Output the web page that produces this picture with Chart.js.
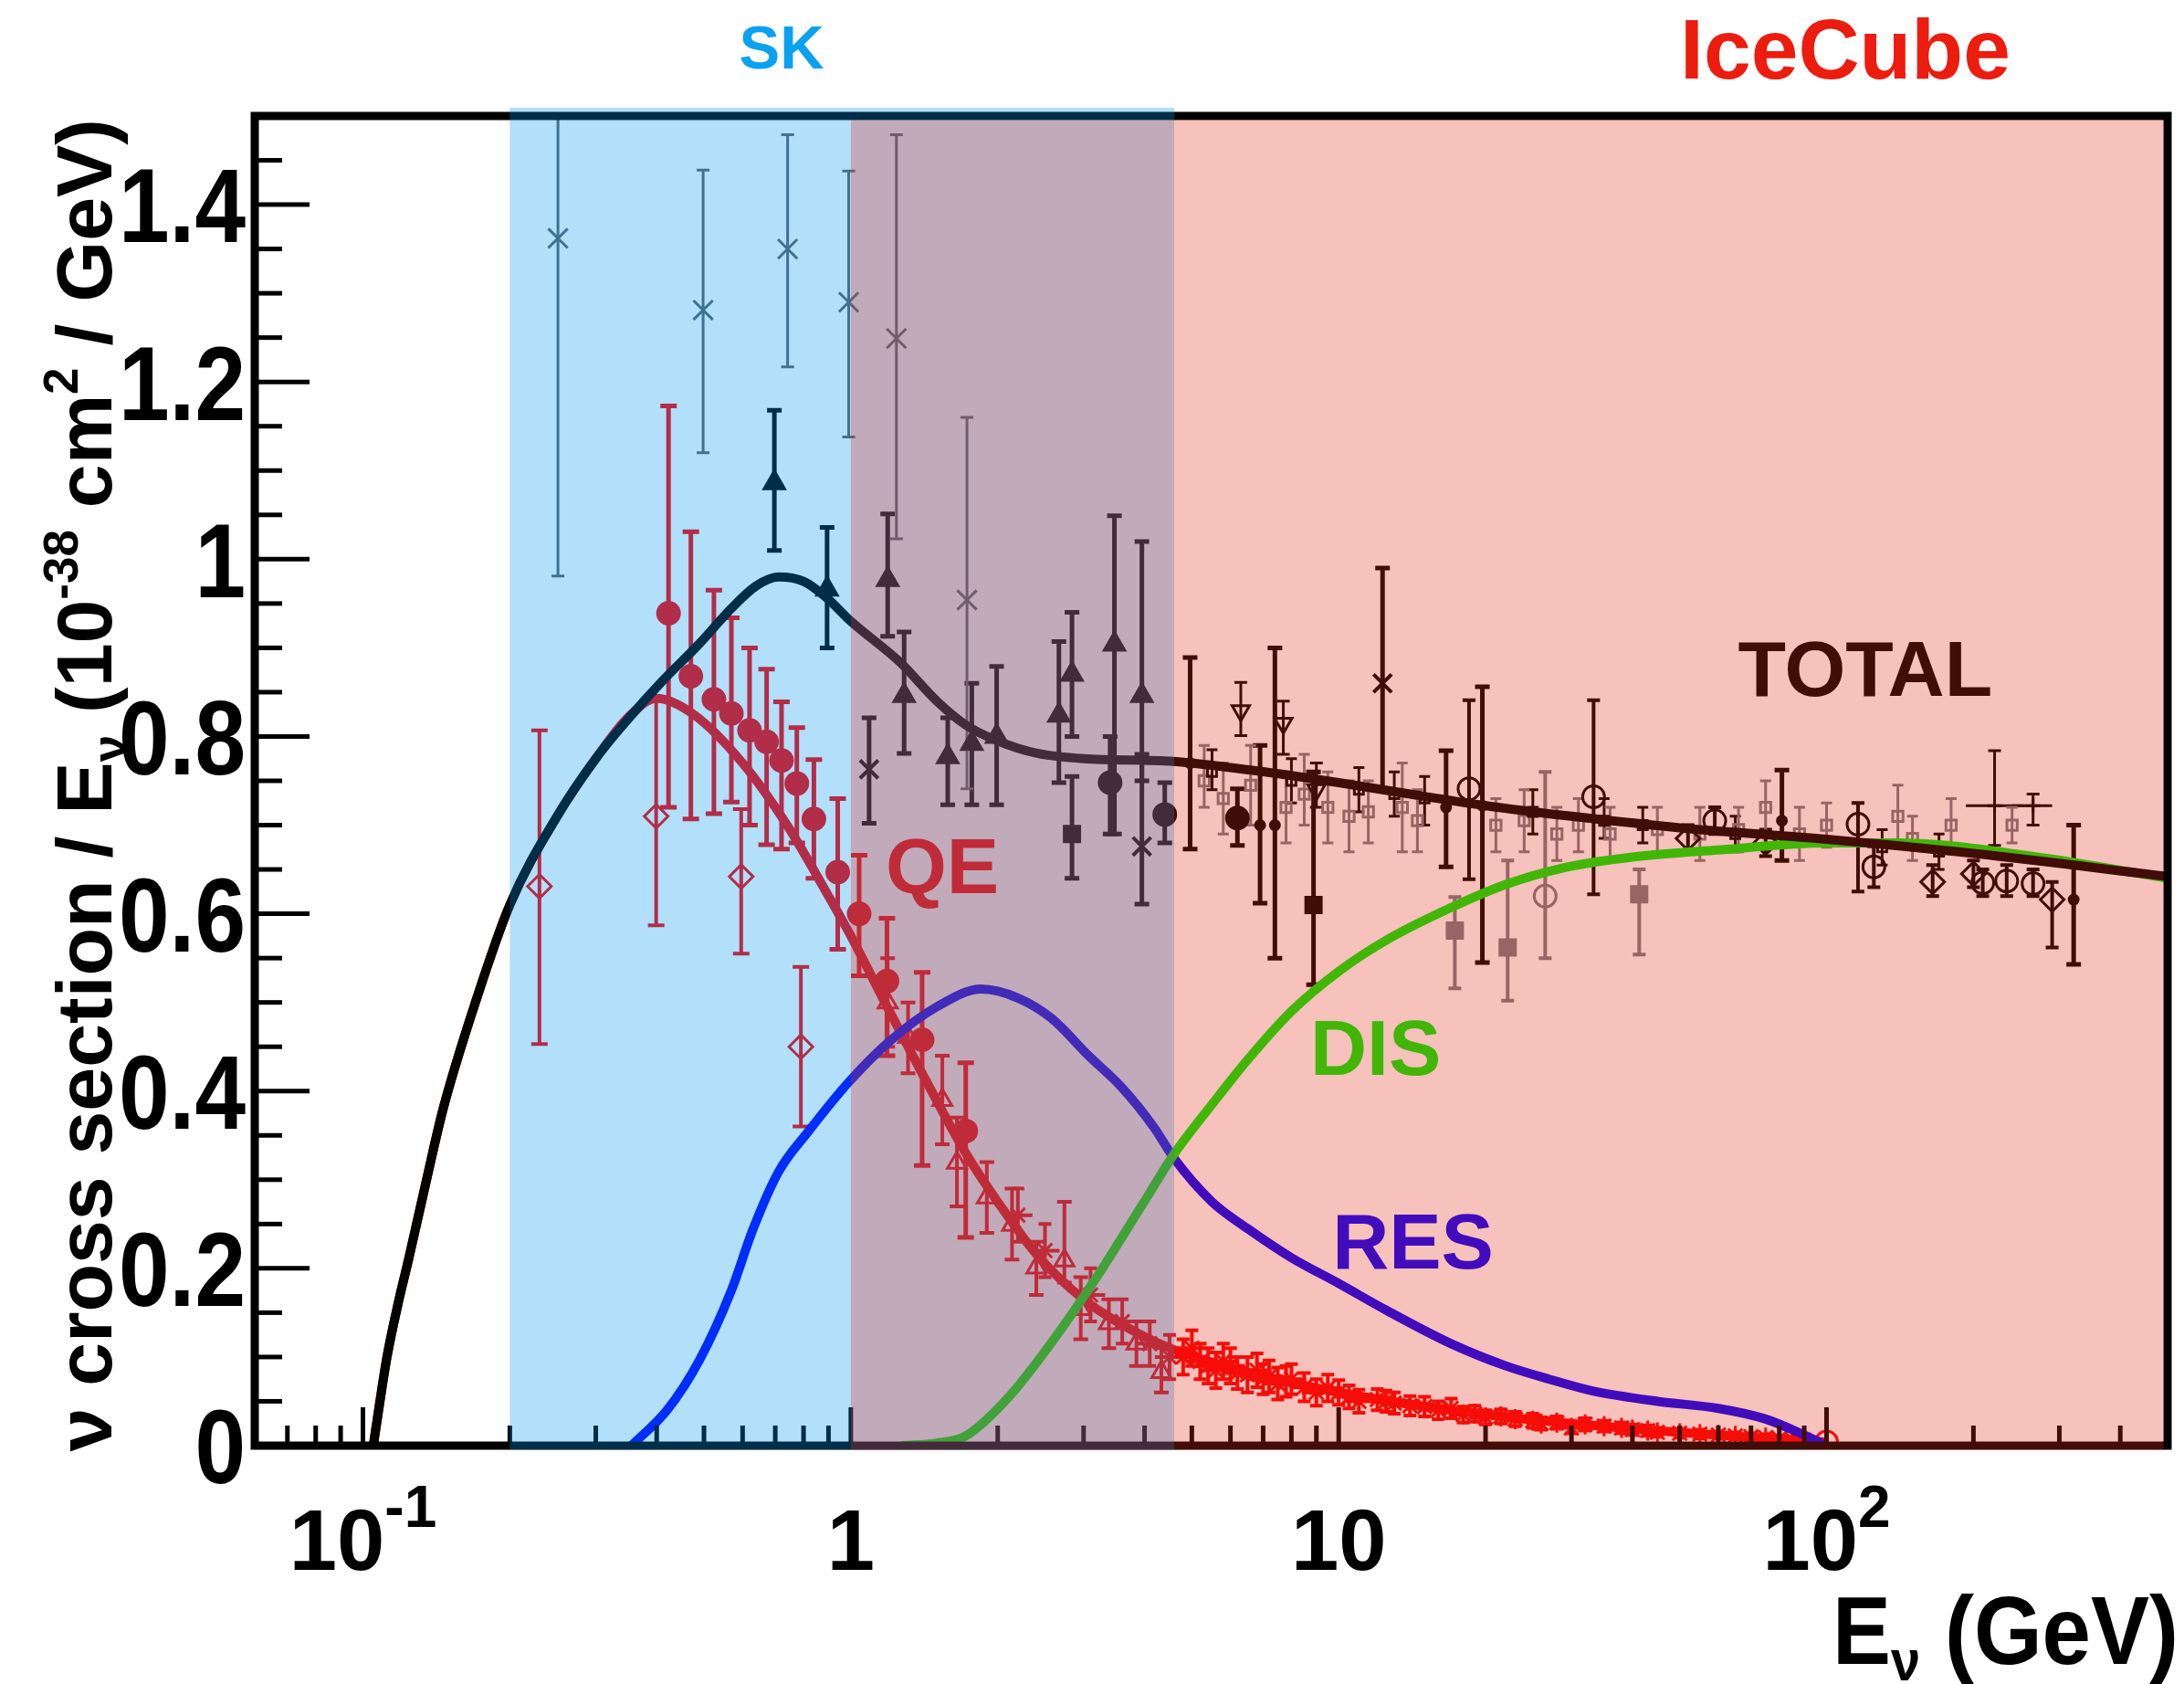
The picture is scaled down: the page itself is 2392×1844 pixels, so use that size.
<!DOCTYPE html>
<html>
<head>
    <meta charset="utf-8">
    <title>Neutrino cross section</title>
    <script src="https://cdn.jsdelivr.net/npm/chart.js"></script>
    <style>
        html, body { margin: 0; padding: 0; background: #fff; }
        canvas { display: block; }
    </style>
</head>
<body>
    <canvas id="xsec_chart" width="2392" height="1844"></canvas>
    <script>
        const FONT = '"Liberation Sans", Arial, Helvetica, sans-serif';

        // model curves (E in GeV, sigma/E in 1e-38 cm2/GeV)
        const totalE = [0.105, 0.108, 0.112, 0.118, 0.124, 0.135, 0.146, 0.17, 0.2, 0.25, 0.3, 0.35, 0.41, 0.49, 0.57, 0.64, 0.71, 0.8, 0.89, 1.0, 1.26, 1.5, 1.72, 2.0, 2.41, 3.0, 4.58, 6, 8, 10, 14, 20, 30, 50, 100, 200, 500];
        const totalV = [0, 0.045, 0.10, 0.16, 0.21, 0.30, 0.38, 0.50, 0.61, 0.71, 0.775, 0.82, 0.862, 0.905, 0.945, 0.97, 0.98, 0.975, 0.957, 0.93, 0.884, 0.84, 0.813, 0.795, 0.781, 0.775, 0.772, 0.765, 0.756, 0.748, 0.735, 0.722, 0.71, 0.697, 0.684, 0.668, 0.642];
        const qeE = [0.105, 0.108, 0.112, 0.118, 0.124, 0.135, 0.146, 0.17, 0.2, 0.25, 0.3, 0.35, 0.4, 0.476, 0.6, 0.74, 0.9, 1.0, 1.2, 1.4, 1.72, 2.0, 2.41, 3.0, 3.9, 4.6, 6.5, 10, 20, 30, 50, 100];
        const qeV = [0, 0.045, 0.10, 0.16, 0.21, 0.30, 0.38, 0.50, 0.61, 0.71, 0.775, 0.822, 0.843, 0.825, 0.77, 0.70, 0.62, 0.575, 0.49, 0.42, 0.33, 0.275, 0.215, 0.165, 0.126, 0.108, 0.083, 0.06, 0.035, 0.025, 0.015, 0.004];
        const resE = [0.355, 0.42, 0.49, 0.569, 0.63, 0.711, 0.82, 0.99, 1.2, 1.5, 1.85, 2.2, 2.58, 3.07, 3.58, 4.17, 4.6, 5.5, 6.5, 8, 10, 12.5, 17, 22, 27, 33, 45, 60, 75, 90, 100];
        const resV = [0, 0.04, 0.097, 0.175, 0.244, 0.309, 0.355, 0.41, 0.456, 0.495, 0.515, 0.505, 0.482, 0.44, 0.405, 0.36, 0.324, 0.275, 0.245, 0.212, 0.183, 0.153, 0.115, 0.09, 0.075, 0.062, 0.05, 0.042, 0.03, 0.012, 0];
        const disE = [1.27, 1.5, 1.72, 2.1, 2.6, 3.2, 3.95, 4.6, 5.5, 6.5, 8, 10, 12.5, 17, 22, 29, 40, 60, 100, 140, 270, 500];
        const disV = [0, 0.003, 0.011, 0.054, 0.119, 0.191, 0.271, 0.329, 0.385, 0.435, 0.49, 0.535, 0.57, 0.607, 0.633, 0.652, 0.664, 0.672, 0.68, 0.68, 0.664, 0.64];

        // total cross section data
        const grayXE = [0.251, 0.498, 0.742, 0.99, 1.24, 1.73];
        const grayXV = [1.362, 1.281, 1.350, 1.290, 1.249, 0.954];
        const grayXLo = [0.981, 1.120, 1.217, 1.138, 1.023, 0.741];
        const grayXHi = [1.52, 1.439, 1.479, 1.438, 1.479, 1.160];

        const triE = [0.697, 0.894, 1.19, 1.286, 1.58, 1.77, 1.99, 2.67, 2.84, 3.47, 3.95];
        const triV = [1.086, 0.966, 0.977, 0.846, 0.777, 0.792, 0.800, 0.824, 0.870, 0.904, 0.846];
        const triLo = [1.010, 0.900, 0.913, 0.781, 0.723, 0.723, 0.723, 0.748, 0.800, 0.690, 0.750];
        const triHi = [1.168, 1.036, 1.051, 0.918, 0.821, 0.860, 0.879, 0.907, 0.940, 1.049, 1.020];

        const dotE = [3.4, 4.4, 6.2];
        const dotV = [0.748, 0.712, 0.708];
        const dotLo = [0.69, 0.68, 0.677];
        const dotHi = [0.80, 0.748, 0.741];

        const sqE = [2.84, 8.88];
        const sqV = [0.69, 0.61];
        const sqLo = [0.64, 0.52];
        const sqHi = [0.755, 0.76];

        const barE = [4.96, 6.9, 7.4, 16.6, 19.7, 81, 321];
        const barV = [0.77, 0.70, 0.70, 0.72, 0.722, 0.705, 0.616];
        const barLo = [0.673, 0.612, 0.55, 0.653, 0.545, 0.66, 0.543];
        const barHi = [0.889, 0.79, 0.90, 0.784, 0.856, 0.762, 0.70];

        const darkXE = [1.09, 3.95, 12.3];
        const darkXV = [0.763, 0.676, 0.86];
        const darkXLo = [0.702, 0.611, 0.74];
        const darkXHi = [0.821, 0.78, 0.99];

        const ringE = [18.5, 33.3, 59, 116, 125, 209, 234, 265];
        const ringV = [0.741, 0.732, 0.705, 0.701, 0.653, 0.635, 0.637, 0.634];
        const ringLo = [0.639, 0.622, 0.69, 0.625, 0.63, 0.62, 0.62, 0.62];
        const ringHi = [0.841, 0.841, 0.72, 0.725, 0.676, 0.65, 0.655, 0.65];

        const diaE = [52, 75, 165, 200, 290];
        const diaV = [0.685, 0.68, 0.636, 0.645, 0.616];
        const diaLo = [0.67, 0.665, 0.62, 0.63, 0.562];
        const diaHi = [0.70, 0.695, 0.655, 0.66, 0.636];

        const invTriE = [6.3, 7.7, 9.0];
        const invTriV = [0.829, 0.815, 0.74];
        const invTriLo = [0.801, 0.78, 0.72];
        const invTriHi = [0.861, 0.84, 0.77];

        const plusE = [221, 265];
        const plusV = [0.722, 0.722];
        const plusLo = [0.677, 0.70];
        const plusHi = [0.784, 0.735];
        const plusXLo = [193, 240];
        const plusXHi = [254, 290];

        const darkOpenE = [5.5, 8, 11, 13, 15, 25, 35, 42, 65, 130, 170];
        const darkOpenV = [0.76, 0.75, 0.74, 0.735, 0.73, 0.715, 0.705, 0.70, 0.69, 0.675, 0.67];
        const darkOpenLo = [0.74, 0.725, 0.715, 0.71, 0.70, 0.69, 0.685, 0.68, 0.67, 0.655, 0.65];
        const darkOpenHi = [0.785, 0.775, 0.765, 0.76, 0.755, 0.74, 0.73, 0.72, 0.71, 0.695, 0.69];

        const grayOpenE = [5.3, 5.8, 6.6, 7.8, 8.5, 9.5, 10.5, 11.5, 13.5, 14.5, 21, 24, 28, 31, 36, 45, 55, 66, 75, 88, 100, 140, 150, 180, 240];
        const grayOpenV = [0.75, 0.73, 0.745, 0.72, 0.735, 0.72, 0.71, 0.715, 0.72, 0.705, 0.70, 0.705, 0.69, 0.70, 0.69, 0.695, 0.69, 0.695, 0.72, 0.69, 0.70, 0.71, 0.685, 0.70, 0.70];
        const grayOpenLo = [0.72, 0.69, 0.70, 0.68, 0.70, 0.68, 0.67, 0.68, 0.67, 0.67, 0.67, 0.67, 0.66, 0.67, 0.66, 0.67, 0.66, 0.67, 0.69, 0.66, 0.675, 0.68, 0.66, 0.675, 0.68];
        const grayOpenHi = [0.79, 0.77, 0.79, 0.76, 0.78, 0.76, 0.75, 0.75, 0.77, 0.74, 0.73, 0.74, 0.72, 0.73, 0.72, 0.72, 0.72, 0.72, 0.75, 0.72, 0.725, 0.745, 0.71, 0.73, 0.72];

        const graySqE = [17.3, 22.2, 41.3];
        const graySqV = [0.581, 0.562, 0.622];
        const graySqLo = [0.516, 0.502, 0.554];
        const graySqHi = [0.619, 0.66, 0.65];

        const grayRingE = [26.5];
        const grayRingV = [0.62];
        const grayRingLo = [0.55];
        const grayRingHi = [0.76];

        // quasi-elastic data
        const qeDotE = [0.423, 0.47, 0.524, 0.569, 0.62, 0.672, 0.721, 0.775, 0.84, 0.94, 1.04, 1.186, 1.40, 1.72];
        const qeDotV = [0.939, 0.868, 0.842, 0.826, 0.807, 0.794, 0.773, 0.747, 0.707, 0.647, 0.60, 0.524, 0.458, 0.355];
        const qeDotLo = [0.72, 0.707, 0.713, 0.726, 0.70, 0.678, 0.673, 0.68, 0.64, 0.56, 0.53, 0.44, 0.316, 0.235];
        const qeDotHi = [1.173, 1.031, 0.965, 0.934, 0.90, 0.876, 0.839, 0.81, 0.774, 0.73, 0.666, 0.595, 0.534, 0.432];

        const qeDiaE = [0.23, 0.399, 0.596, 0.79];
        const qeDiaV = [0.631, 0.71, 0.642, 0.45];
        const qeDiaLo = [0.453, 0.587, 0.555, 0.36];
        const qeDiaHi = [0.807, 0.842, 0.718, 0.54];

        const qeTriE = [1.19, 1.31, 1.54, 1.65, 1.90, 2.14, 2.40, 2.74, 2.96, 3.38, 3.85, 4.33];
        const qeTriV = [0.50, 0.461, 0.39, 0.319, 0.28, 0.249, 0.201, 0.209, 0.154, 0.138, 0.115, 0.083];
        const qeTriLo = [0.45, 0.42, 0.34, 0.27, 0.24, 0.21, 0.17, 0.184, 0.12, 0.11, 0.09, 0.06];
        const qeTriHi = [0.55, 0.50, 0.44, 0.37, 0.32, 0.29, 0.23, 0.275, 0.19, 0.165, 0.14, 0.11];

        const qeStarE = [2.2, 2.5, 3.1, 3.6, 4.1, 4.5, 4.8, 5.0, 5.2, 5.4, 5.6, 5.8, 6.0, 6.2, 6.5, 6.8, 7.0, 7.2, 7.5, 7.8, 8.0, 8.5, 9.0, 9.5, 10, 10.5, 11, 12, 12.5, 13, 14, 15, 16, 17, 18, 19, 20, 21.5, 23, 25, 26, 28, 30, 32, 35, 38, 40, 43, 45, 50, 55, 60, 65, 70, 75, 80, 85, 90];
        const qeStarV = [0.26, 0.22, 0.17, 0.14, 0.115, 0.10, 0.10, 0.11, 0.095, 0.09, 0.085, 0.095, 0.09, 0.082, 0.08, 0.085, 0.075, 0.078, 0.07, 0.072, 0.075, 0.066, 0.06, 0.065, 0.06, 0.055, 0.05, 0.052, 0.05, 0.048, 0.045, 0.044, 0.04, 0.042, 0.035, 0.036, 0.032, 0.033, 0.03, 0.028, 0.025, 0.026, 0.02, 0.024, 0.022, 0.02, 0.018, 0.017, 0.015, 0.014, 0.013, 0.012, 0.011, 0.01, 0.009, 0.008, 0.007, 0.006];
        const qeStarLo = [0.23, 0.19, 0.14, 0.115, 0.09, 0.075, 0.08, 0.09, 0.075, 0.07, 0.065, 0.075, 0.07, 0.064, 0.06, 0.066, 0.058, 0.06, 0.052, 0.055, 0.058, 0.05, 0.045, 0.05, 0.046, 0.042, 0.037, 0.04, 0.038, 0.036, 0.034, 0.033, 0.03, 0.031, 0.026, 0.027, 0.024, 0.025, 0.022, 0.02, 0.018, 0.019, 0.014, 0.017, 0.016, 0.014, 0.012, 0.011, 0.01, 0.009, 0.008, 0.008, 0.007, 0.006, 0.005, 0.005, 0.004, 0.003];
        const qeStarHi = [0.29, 0.25, 0.20, 0.165, 0.14, 0.125, 0.12, 0.13, 0.115, 0.11, 0.105, 0.115, 0.11, 0.1, 0.10, 0.104, 0.092, 0.096, 0.088, 0.09, 0.092, 0.082, 0.075, 0.08, 0.074, 0.068, 0.063, 0.064, 0.062, 0.06, 0.056, 0.055, 0.05, 0.053, 0.044, 0.045, 0.04, 0.041, 0.038, 0.036, 0.032, 0.033, 0.026, 0.031, 0.028, 0.026, 0.024, 0.023, 0.02, 0.019, 0.018, 0.016, 0.015, 0.014, 0.013, 0.011, 0.01, 0.009];

        const qeRingE = [100];
        const qeRingV = [0.004];

        // experiment ranges and tick labels
        const skBand = [0.2, 4.6];
        const iceBand = [1, 500];
        const yTickValues = [0, 0.2, 0.4, 0.6, 0.8, 1, 1.2, 1.4];
        const xTickLabels = [[0.1, '10', '-1'], [1, '1', ''], [10, '10', ''], [100, '10', '2']];

        function pts(E, V, Lo, Hi, XLo, XHi) {
            return E.map((e, i) => ({
                x: e, y: V[i],
                lo: Lo ? Lo[i] : null, hi: Hi ? Hi[i] : null,
                xlo: XLo ? XLo[i] : null, xhi: XHi ? XHi[i] : null
            }));
        }

        function curve(label, E, V, color) {
            return {
                label: label, data: pts(E, V), showLine: true,
                borderColor: color, backgroundColor: color, borderWidth: 10,
                pointRadius: 0, cubicInterpolationMode: 'monotone', fill: false
            };
        }

        function marks(label, data, style) {
            return Object.assign({ label: label, data: data, showLine: false }, style);
        }

        function look(shape, color, radius, filled, barColor, barWidth, cap, extra) {
            return Object.assign({
                pointStyle: shape, pointRadius: radius,
                pointBackgroundColor: filled ? color : 'rgba(0,0,0,0)',
                pointBorderColor: color, pointBorderWidth: 3,
                barColor: barColor, barWidth: barWidth, cap: cap
            }, extra || {});
        }

        const BLACK = '#000000';
        const GRAY = 'rgb(92,98,108)';
        const LGRAY = 'rgb(122,126,132)';
        const RED = '#ff0000';

        const datasets = [
            curve('TOTAL', totalE, totalV, BLACK),
            curve('DIS', disE, disV, '#00f000'),
            curve('RES', resE, resV, '#0000ff'),
            curve('QE', qeE, qeV, RED),
            marks('tri', pts(triE, triV, triLo, triHi), look('triangle', BLACK, 13, true, BLACK, 5, 8)),
            marks('dot', pts(dotE, dotV, dotLo, dotHi), look('circle', BLACK, 12, true, BLACK, 5, 8)),
            marks('sq', pts(sqE, sqV, sqLo, sqHi), look('rect', BLACK, 12, true, BLACK, 5, 8)),
            marks('bar', pts(barE, barV, barLo, barHi), look('circle', BLACK, 5, true, BLACK, 5, 8)),
            marks('darkX', pts(darkXE, darkXV, darkXLo, darkXHi), look('crossRot', BLACK, 14, false, BLACK, 5, 8, { pointBorderWidth: 4 })),
            marks('ring', pts(ringE, ringV, ringLo, ringHi), look('circle', BLACK, 12, false, BLACK, 4, 7)),
            marks('dia', pts(diaE, diaV, diaLo, diaHi), look('rectRot', BLACK, 13, false, BLACK, 4, 7)),
            marks('invTri', pts(invTriE, invTriV, invTriLo, invTriHi), look('triangle', BLACK, 11, false, BLACK, 3, 7, { pointRotation: 180 })),
            marks('plus', pts(plusE, plusV, plusLo, plusHi, plusXLo, plusXHi), look('cross', BLACK, 8, false, BLACK, 3, 7)),
            marks('darkOpen', pts(darkOpenE, darkOpenV, darkOpenLo, darkOpenHi), look('rect', BLACK, 7, false, BLACK, 3, 6)),
            marks('grayOpen', pts(grayOpenE, grayOpenV, grayOpenLo, grayOpenHi), look('rect', LGRAY, 8, false, LGRAY, 3, 6)),
            marks('graySq', pts(graySqE, graySqV, graySqLo, graySqHi), look('rect', LGRAY, 12, true, LGRAY, 4, 7)),
            marks('grayRing', pts(grayRingE, grayRingV, grayRingLo, grayRingHi), look('circle', LGRAY, 12, false, LGRAY, 4, 7)),
            marks('grayX', pts(grayXE, grayXV, grayXLo, grayXHi), look('crossRot', GRAY, 15, false, GRAY, 3, 7)),
            marks('qeDot', pts(qeDotE, qeDotV, qeDotLo, qeDotHi), look('circle', RED, 12, true, RED, 5, 9)),
            marks('qeDia', pts(qeDiaE, qeDiaV, qeDiaLo, qeDiaHi), look('rectRot', RED, 13, false, RED, 4, 9)),
            marks('qeTri', pts(qeTriE, qeTriV, qeTriLo, qeTriHi), look('triangle', RED, 12, false, RED, 4, 8)),
            marks('qeStar', pts(qeStarE, qeStarV, qeStarLo, qeStarHi), look('star', RED, 11, false, RED, 4, 7, { hbar: 16 })),
            marks('qeRing', pts(qeRingE, qeRingV), look('circle', RED, 12, false, null, 0, 0))
        ];

        const errorBars = {
            id: 'errorBars',
            beforeDatasetsDraw(chart) {
                const { ctx, chartArea: a, scales: { x, y } } = chart;
                ctx.save();
                ctx.beginPath();
                ctx.rect(a.left, a.top, a.right - a.left, a.bottom - a.top);
                ctx.clip();
                chart.data.datasets.forEach(ds => {
                    if (!ds.barColor) return;
                    ctx.strokeStyle = ds.barColor;
                    ctx.lineWidth = ds.barWidth;
                    ds.data.forEach(p => {
                        const px = x.getPixelForValue(p.x);
                        const py = y.getPixelForValue(p.y);
                        ctx.beginPath();
                        if (p.lo != null) {
                            const y0 = y.getPixelForValue(p.lo);
                            const y1 = y.getPixelForValue(p.hi);
                            ctx.moveTo(px, y0); ctx.lineTo(px, y1);
                            ctx.moveTo(px - ds.cap, y0); ctx.lineTo(px + ds.cap, y0);
                            ctx.moveTo(px - ds.cap, y1); ctx.lineTo(px + ds.cap, y1);
                        }
                        if (p.xlo != null) {
                            ctx.moveTo(x.getPixelForValue(p.xlo), py);
                            ctx.lineTo(x.getPixelForValue(p.xhi), py);
                        } else if (ds.hbar) {
                            ctx.moveTo(px - ds.hbar, py); ctx.lineTo(px + ds.hbar, py);
                        }
                        ctx.stroke();
                    });
                });
                ctx.restore();
            }
        };

        function drawRich(ctx, parts, x, y, align) {
            let w = 0;
            parts.forEach(p => { ctx.font = 'bold ' + p[1] + 'px ' + FONT; w += ctx.measureText(p[0]).width; });
            let cx = align === 'right' ? x - w : (align === 'center' ? x - w / 2 : x);
            ctx.textAlign = 'left';
            ctx.textBaseline = 'alphabetic';
            parts.forEach(p => {
                ctx.font = 'bold ' + p[1] + 'px ' + FONT;
                ctx.fillText(p[0], cx, y + p[2]);
                cx += ctx.measureText(p[0]).width;
            });
        }

        function line(ctx, x0, y0, x1, y1) {
            ctx.beginPath(); ctx.moveTo(x0, y0); ctx.lineTo(x1, y1); ctx.stroke();
        }

        const frame = {
            id: 'frame',
            afterDatasetsDraw(chart) {
                const { ctx, chartArea: a, scales: { x, y } } = chart;
                ctx.save();
                ctx.strokeStyle = '#000';
                ctx.lineWidth = 5;
                for (let k = 1; k < 30; k++) {
                    const py = y.getPixelForValue(k * 0.05);
                    line(ctx, a.left, py, a.left + (k % 4 === 0 ? 60 : 30), py);
                }
                for (let d = -2; d <= 2; d++) {
                    for (let m = 1; m <= 9; m++) {
                        const v = m * Math.pow(10, d);
                        if (v <= x.min || v >= x.max) continue;
                        const px = x.getPixelForValue(v);
                        line(ctx, px, a.bottom, px, a.bottom - (m === 1 ? 42 : 22));
                    }
                }
                ctx.lineWidth = 9;
                ctx.strokeRect(a.left, a.top, a.right - a.left, a.bottom - a.top);

                // y tick labels, slightly tall like the original
                ctx.fillStyle = '#000';
                y.ticks.forEach(t => {
                    ctx.save();
                    ctx.translate(a.left - 10, y.getPixelForValue(t.value));
                    ctx.scale(1, 1.15);
                    ctx.font = 'bold 100px ' + FONT;
                    ctx.textAlign = 'right';
                    ctx.textBaseline = 'alphabetic';
                    ctx.fillText(String(+t.value.toFixed(1)), 0, 36);
                    ctx.restore();
                });

                xTickLabels.forEach(t => {
                    drawRich(ctx, [[t[1], 94, 0], [t[2], 64, -47]], x.getPixelForValue(t[0]), 1719, 'center');
                });

                ctx.save();
                ctx.translate(2386, 1822);
                ctx.scale(1, 1.1);
                drawRich(ctx, [['E', 96, 0], ['ν', 58, 16], [' (GeV)', 96, 0]], 0, 0, 'right');
                ctx.restore();

                ctx.save();
                ctx.translate(122, 130);
                ctx.rotate(-Math.PI / 2);
                drawRich(ctx, [['ν cross section / E', 86, 0], ['ν', 53, 16], [' (10', 86, 0], ['-38', 53, -37],
                    [' cm', 86, 0], ['2', 53, -37], [' / GeV)', 86, 0]], 0, 0, 'right');
                ctx.restore();

                const labels = [['TOTAL', 120, 0.846, '#000000'], ['QE', 1.54, 0.623, RED],
                    ['DIS', 11.9, 0.418, '#00f000'], ['RES', 14.2, 0.20, '#0000ff']];
                labels.forEach(l => {
                    ctx.fillStyle = l[3];
                    drawRich(ctx, [[l[0], 86, 0]], x.getPixelForValue(l[1]), y.getPixelForValue(l[2]), 'center');
                });
                ctx.restore();
            }
        };

        const bands = {
            id: 'bands',
            afterDraw(chart) {
                const { ctx, chartArea: a, scales: { x } } = chart;
                ctx.save();
                const b0 = x.getPixelForValue(skBand[0]);
                const b1 = x.getPixelForValue(skBand[1]);
                ctx.fillStyle = 'rgba(0,150,240,0.3)';
                ctx.fillRect(b0, a.top - 9, b1 - b0, a.bottom + 4.5 - (a.top - 9));
                const r0 = x.getPixelForValue(iceBand[0]);
                const r1 = Math.min(x.getPixelForValue(iceBand[1]), a.right - 4.5);
                ctx.fillStyle = 'rgba(227,41,24,0.29)';
                ctx.fillRect(r0, a.top + 4.5, r1 - r0, a.bottom - a.top);

                ctx.fillStyle = '#0aa2f0';
                drawRich(ctx, [['SK', 67, 0]], 856, 75, 'center');
                ctx.fillStyle = '#ec1c0e';
                drawRich(ctx, [['IceCube', 93, 0]], 2021, 86, 'center');
                ctx.restore();
            }
        };

        new Chart(document.getElementById('xsec_chart'), {
            type: 'scatter',
            data: { datasets: datasets },
            options: {
                responsive: false,
                animation: false,
                devicePixelRatio: 1,
                events: [],
                layout: { padding: { top: 127, right: 5, left: 0, bottom: 0 } },
                plugins: { legend: { display: false }, tooltip: { enabled: false } },
                scales: {
                    x: {
                        type: 'logarithmic', min: 0.06, max: 500,
                        ticks: { display: false },
                        grid: { display: false },
                        border: { display: false },
                        afterFit(s) { s.height = 261; }
                    },
                    y: {
                        type: 'linear', min: 0, max: 1.5,
                        afterBuildTicks(s) { s.ticks = yTickValues.map(v => ({ value: v })); },
                        ticks: { display: false },
                        grid: { display: false, drawTicks: false },
                        border: { display: false },
                        afterFit(s) { s.width = 279; }
                    }
                }
            },
            plugins: [errorBars, frame, bands]
        });
    </script>
</body>
</html>
